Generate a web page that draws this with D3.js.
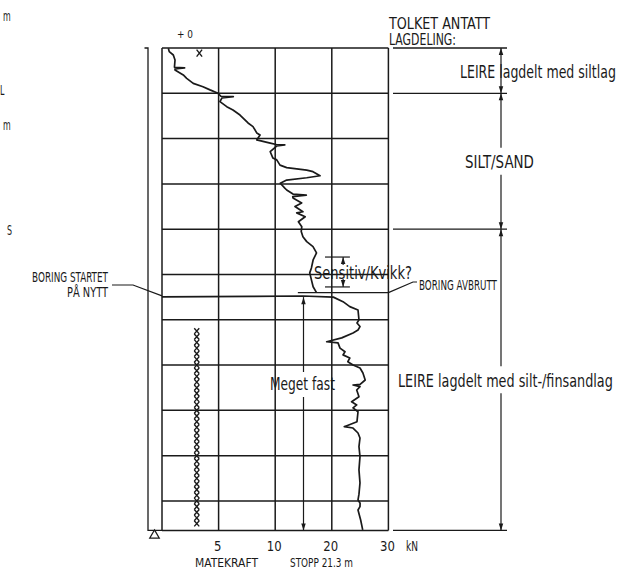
<!DOCTYPE html>
<html><head><meta charset="utf-8">
<script src="https://cdn.jsdelivr.net/npm/d3@7"></script>
<style>
body{margin:0;background:#fff;}
svg text{font-family:"Liberation Sans Narrow","DejaVu Sans Condensed","Arial Narrow",sans-serif;fill:#1a1a1a;}
</style></head><body>
<svg id="c" width="630" height="570"></svg>
<script>
// ---- data ----
const forceTicks = [0, 5, 10, 20, 30];           // kN, piecewise axis
const tickLabels = ["5", "10", "20", "30"];
const depthGrid = [0, 2, 4, 6, 8, 10, 12, 14, 16, 18, 20];
const stopDepth = 21.3;                          // m
// first boring: [depth m, force kN]
const seg1 = [[0.01,0.56],[0.16,0.64],[0.31,1.0],[0.53,1.15],[0.85,1.1],[0.88,2.0],[0.92,1.15],[0.97,1.15],
 [1.19,1.88],[1.34,2.18],[1.56,2.76],[1.71,3.62],[1.85,4.24],[2.0,4.95],[2.13,5.2],[2.15,6.3],[2.2,5.3],
 [2.37,5.12],[2.59,5.72],[2.74,6.27],[2.96,6.89],[3.31,7.6],[3.47,8.04],[3.75,8.37],[3.84,8.66],[4.06,8.37],
 [4.2,9.56],[4.26,10.2],[4.28,11.7],[4.32,10.3],[4.58,9.56],[4.86,9.8],[4.94,10.27],[5.17,10.85],[5.28,12.03],
 [5.39,15.57],[5.46,16.68],[5.64,17.92],[5.73,15.57],[5.83,12.03],[5.97,10.9],[6.19,11.7],[6.27,12.03],
 [6.45,13.14],[6.5,15.5],[6.56,13.1],[6.62,13.14],[6.84,14.68],[7.0,13.5],[7.23,14.9],[7.28,13.8],[7.45,15.3],
 [7.67,14.1],[7.89,14.7],[8.1,14.6],[8.33,14.9],[8.55,15.57],[8.77,16.68],[9.05,17.3],[9.36,16.7],[9.71,16.4],
 [9.93,16.1],[10.24,16.4],[10.54,16.7],[10.8,17.3]];
// restarted boring
const seg2 = [[10.99,0],[10.97,8],[10.95,14.9],[11.0,20.27],[11.2,21.98],[11.42,23.18],[11.57,24.63],[12.0,24.8],
 [12.14,24.45],[12.3,24.98],[12.45,24.63],[12.58,23.75],[12.8,21.75],[12.97,19.1],[13.02,21.1],[13.25,21.45],
 [13.41,22.33],[13.55,21.98],[13.69,23.18],[13.85,22.83],[14.0,23.75],[14.13,24.98],[14.35,25.5],[14.66,25.9],
 [14.85,25.0],[14.88,23.75],[14.95,24.98],[15.1,24.4],[15.4,24.8],[15.62,23.5],[15.76,24.4],[15.89,23.75],
 [16.06,24.63],[16.5,24.45],[16.72,22.2],[16.78,23.75],[17.0,24.63],[17.22,24.98],[17.6,24.8],[18.04,24.98],
 [18.63,24.8],[19.2,24.98],[19.7,24.8],[19.95,24.63],[20.1,25.0],[20.25,24.98],[20.4,24.63],[20.84,25.1],[21.28,25.46]];
const crossTop = [[0.16, 3.3]];
const crossDepths = [12.5,12.75,13.0,13.25,13.5,13.75,14.0,14.25,14.5,14.75,15.0,15.25,15.5,15.75,16.0,16.25,16.5,
 16.75,17.0,17.25,17.5,17.75,18.0,18.25,18.5,18.75,19.0,19.25,19.5,19.75,20.0,20.25,20.5,20.75,21.0];
const crossForce = 3.07;
const layerBounds = [0, 2, 8, 21.3];
const layerNames = ["LEIRE lagdelt med siltlag", "SILT/SAND", "LEIRE lagdelt med silt-/finsandlag"];
const headerLines = ["TOLKET ANTATT", "LAGDELING:"];
const stopDepthFirst = 10.8, restartDepth = 10.99;
const sensitivRange = [9.23, 10.55];
const fastRange = [11.0, 21.3];

// ---- drawing ----
const svg = d3.select("#c");
const ink = "#1a1a1a";
const x = d3.scaleLinear().domain(forceTicks).range([162, 218.6, 275.2, 331.8, 388.4]);
const y = d3.scaleLinear().domain([0, stopDepth]).range([48, 530.4]);

const defs = svg.append("defs");
defs.append("marker").attr("id","ah").attr("viewBox","0 0 10 10").attr("refX",10).attr("refY",5)
  .attr("markerUnits","userSpaceOnUse").attr("markerWidth",8).attr("markerHeight",7)
  .attr("orient","auto-start-reverse")
  .append("path").attr("d","M0,1.8L10,5L0,8.2Z").attr("fill",ink);

const g = svg.append("g").attr("stroke", ink).attr("fill","none");

// grid
g.selectAll(".hg").data(depthGrid.concat([stopDepth])).join("line")
  .attr("x1", x(0)).attr("x2", x(30)).attr("y1", d=>y(d)).attr("y2", d=>y(d)).attr("stroke-width",1.5);
g.selectAll(".vg").data(forceTicks).join("line")
  .attr("x1", d=>x(d)).attr("x2", d=>x(d)).attr("y1", y(0)).attr("y2", y(stopDepth)).attr("stroke-width",1.5);

// left bracket column
g.append("path").attr("d", `M144.5,${y(0)}H148V${y(stopDepth)}H${x(0)}`).attr("stroke-width",1.3);
svg.append("path").attr("d", d3.symbol(d3.symbolTriangle, 40)()).attr("transform",`translate(154.5,${y(stopDepth)+5})`)
  .attr("fill","#fff").attr("stroke",ink).attr("stroke-width",1.2);

// curves
const line = d3.line().x(d=>x(d[1])).y(d=>y(d[0]));
g.append("path").datum(seg1).attr("d", line).attr("stroke-width",1.7).attr("stroke-linejoin","round");
g.append("path").datum(seg2).attr("d", line).attr("stroke-width",1.7).attr("stroke-linejoin","round");

// crosses
const cross = (cx, cy, w, h) => `M${cx-w/2},${cy-h/2}L${cx+w/2},${cy+h/2}M${cx+w/2},${cy-h/2}L${cx-w/2},${cy+h/2}`;
g.selectAll(".cx").data(crossDepths).join("path")
  .attr("d", d=>cross(x(crossForce), y(d), 5, 5.6)).attr("stroke-width",1.4);
g.selectAll(".ct").data(crossTop).join("path")
  .attr("d", d=>cross(x(d[1]), y(d[0])+1.5, 5.5, 7)).attr("stroke-width",1.4);

// boring stop / restart
g.append("line").attr("x1", x(14)).attr("x2", x(30)).attr("y1", y(stopDepthFirst)).attr("y2", y(stopDepthFirst)).attr("stroke-width",1.3);
g.append("path").attr("d", `M${x(30)},${y(stopDepthFirst)}L413,282H417`).attr("stroke-width",1.2);
g.append("path").attr("d", `M${x(0)},${y(restartDepth)-1}L133,285H112`).attr("stroke-width",1.2);

// sensitiv marker
g.selectAll(".st").data(sensitivRange).join("line")
  .attr("x1", x(18.8)).attr("x2", x(23.2)).attr("y1", d=>y(d)).attr("y2", d=>y(d)).attr("stroke-width",1.2);
g.append("line").attr("x1", x(22)).attr("x2", x(22)).attr("y1", y(sensitivRange[0])).attr("y2", y(sensitivRange[0])+8)
  .attr("stroke-width",1.1).attr("marker-start","url(#ah)");
g.append("line").attr("x1", x(22)).attr("x2", x(22)).attr("y1", y(sensitivRange[1])-8).attr("y2", y(sensitivRange[1]))
  .attr("stroke-width",1.1).attr("marker-end","url(#ah)");

// meget fast arrow
g.append("line").attr("x1", x(15)).attr("x2", x(15)).attr("y1", y(fastRange[0])).attr("y2", 372)
  .attr("stroke-width",1.2).attr("marker-start","url(#ah)");
g.append("line").attr("x1", x(15)).attr("x2", x(15)).attr("y1", 397).attr("y2", y(fastRange[1]))
  .attr("stroke-width",1.2).attr("marker-end","url(#ah)");

// layer column on right
const ax = 501;
g.selectAll(".lb").data(layerBounds).join("line")
  .attr("x1", 393).attr("x2", 507).attr("y1", d=>y(d)).attr("y2", d=>y(d)).attr("stroke-width",1.3);
const gaps = [0, 13.5, 13.5];
layerNames.forEach((n, i) => {
  const y0 = y(layerBounds[i]), y1 = y(layerBounds[i+1]), m = (y0+y1)/2;
  if (gaps[i] === 0) {
    g.append("line").attr("x1",ax).attr("x2",ax).attr("y1",y0).attr("y2",y1).attr("stroke-width",1.2)
      .attr("marker-start","url(#ah)").attr("marker-end","url(#ah)");
  } else {
    g.append("line").attr("x1",ax).attr("x2",ax).attr("y1",y0).attr("y2",m-gaps[i]).attr("stroke-width",1.2).attr("marker-start","url(#ah)");
    g.append("line").attr("x1",ax).attr("x2",ax).attr("y1",m+gaps[i]).attr("y2",y1).attr("stroke-width",1.2).attr("marker-end","url(#ah)");
  }
});

// ---- texts: fitted to the reference width and cap height ----
const T = (s, tx, ty, tw, capH, anchor) => {
  const t = svg.append("text").attr("x",0).attr("y",0).attr("font-size",100)
    .attr("text-anchor",anchor||"start").text(s);
  const w100 = t.node().getComputedTextLength();
  const size = 100 * tw / w100;
  const k = Math.max(0.8, Math.min(1.6, capH / (0.72 * size)));
  t.attr("font-size", size.toFixed(2)).attr("transform", `translate(${tx},${ty}) scale(1,${k.toFixed(3)})`);
  return t;
};
// two-line header as one text block
{
  const hdr = T(headerLines[0], 389, 28.5, 101, 11.5);
  const tf = hdr.attr("transform"); const k = +tf.match(/scale\(1,([\d.]+)\)/)[1];
  hdr.text(null);
  hdr.append("tspan").attr("x",0).attr("dy",0).attr("textLength",101).attr("lengthAdjust","spacingAndGlyphs").text(headerLines[0]);
  hdr.append("tspan").attr("x",0).attr("dy",(16.5/k).toFixed(2)).attr("textLength",67).attr("lengthAdjust","spacingAndGlyphs").text(headerLines[1]);
}
const labelX = [460, 465, 398], labelLen = [156, 69, 215];
layerNames.forEach((n,i) => {
  const m = (y(layerBounds[i]) + y(layerBounds[i+1]))/2;
  T(n, labelX[i], m + 7, labelLen[i], 12.5);
});
T("Meget fast", 270, 390, 65, 12.5);
T("Sensitiv/Kvikk?", 314, 279, 98, 12.5);
T("BORING STARTET", 108, 282, 76, 9.5, "end");
T("PÅ NYTT", 108, 297, 41, 9.5, "end");
T("BORING AVBRUTT", 419, 290, 78, 9.5);
T("+ 0", 177, 38, 16, 8);

// bottom axis
const axis = d3.axisBottom(x).tickValues(forceTicks.slice(1)).tickFormat((d,i)=>tickLabels[i]).tickSize(0).tickPadding(0);
const ag = svg.append("g").attr("transform",`translate(-1.5,${y(stopDepth)+10})`).call(axis);
ag.select(".domain").remove();
ag.selectAll("text").attr("font-size",13).attr("fill",ink).attr("dy","0.72em").attr("transform","scale(1,1.1)")
  .attr("font-family",'"Liberation Sans Narrow","DejaVu Sans Condensed",sans-serif');
T("kN", 406, 551, 12, 10);
T("MATEKRAFT", 195, 567, 63, 9);
T("STOPP 21.3 m", 290, 567, 63, 9);

// clipped fragments at left edge
const F = (s, tx, ty) => svg.append("text").attr("font-size",11).attr("transform",`translate(${tx},${ty}) scale(0.8,1.25)`).text(s);
F("m", 3, 21);
F("L", 0, 95);
F("m", 3, 130);
F("S", 7, 235);
</script>
</body></html>
